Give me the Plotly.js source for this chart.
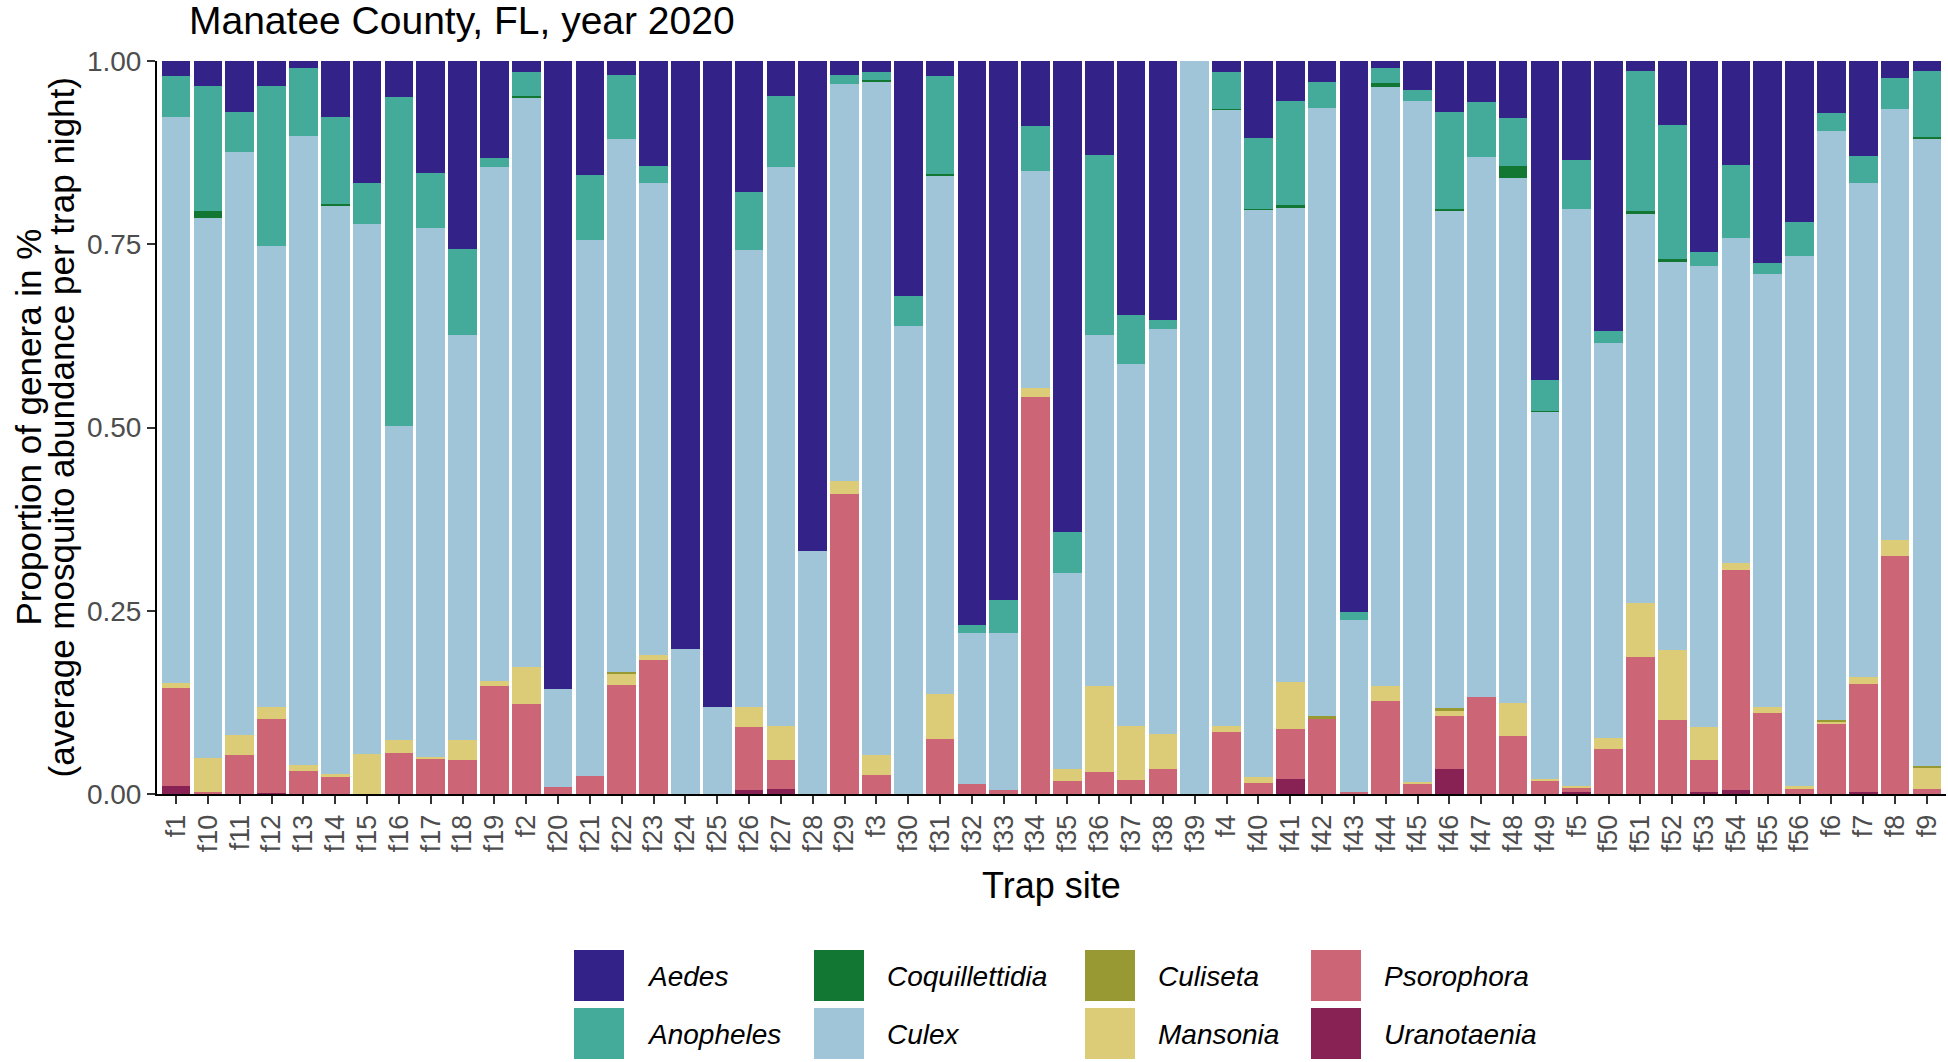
<!DOCTYPE html>
<html>
<head>
<meta charset="utf-8">
<script src="https://cdn.plot.ly/plotly-3.0.1.min.js"></script>
<style>
  html, body { margin: 0; padding: 0; background: #ffffff; }
  #myChart { width: 1948px; height: 1062px; }
</style>
</head>
<body>
<div id="myChart"></div>
<script>
// trap sites, in the (alphabetical) order used on the x axis
var sites = ["f1","f10","f11","f12","f13","f14","f15","f16","f17","f18","f19",
  "f2","f20","f21","f22","f23","f24","f25","f26","f27","f28","f29",
  "f3","f30","f31","f32","f33","f34","f35","f36","f37","f38","f39",
  "f4","f40","f41","f42","f43","f44","f45","f46","f47","f48","f49",
  "f5","f50","f51","f52","f53","f54","f55","f56","f6","f7","f8","f9"];

// proportion of each genus per site
var uranotaenia = [0.011,0,0,0.002,0,0,0,0,0,0,0,
  0,0,0,0,0,0,0,0.005,0.007,0,0,
  0,0,0,0,0,0,0,0,0,0,0,
  0,0,0.021,0,0,0,0,0.034,0,0,0,
  0.003,0,0,0,0.003,0.005,0,0,0,0.003,0,0];
var psorophora = [0.133,0.003,0.053,0.101,0.032,0.023,0,0.056,0.048,0.046,0.148,
  0.123,0.009,0.024,0.149,0.183,0,0,0.086,0.039,0,0.409,
  0.026,0,0.075,0.014,0.005,0.542,0.018,0.030,0.019,0.034,0,
  0.084,0.015,0.068,0.102,0.003,0.127,0.013,0.073,0.132,0.079,0.019,
  0.005,0.062,0.187,0.101,0.044,0.301,0.110,0.007,0.095,0.147,0.325,0.007];
var mansonia = [0.008,0.046,0.027,0.016,0.008,0.004,0.054,0.017,0.002,0.027,0.006,
  0.050,0,0,0.015,0.006,0,0,0.028,0.047,0,0.018,
  0.027,0,0.061,0,0,0.012,0.016,0.117,0.074,0.048,0,
  0.009,0.008,0.064,0,0,0.021,0.003,0.006,0,0.045,0.002,
  0.003,0.015,0.073,0.096,0.044,0.009,0.009,0.004,0.004,0.010,0.021,0.029];
var culiseta = [0,0,0,0,0,0,0,0,0,0,0,
  0,0,0,0.002,0,0,0,0,0,0,0,
  0,0,0,0,0,0,0,0,0,0,0,
  0,0,0,0.005,0,0,0,0.004,0,0,0,
  0,0,0,0,0,0,0,0,0.002,0,0,0.002];
var culex = [0.772,0.737,0.796,0.629,0.858,0.775,0.723,0.429,0.722,0.553,0.702,
  0.777,0.134,0.732,0.727,0.644,0.198,0.119,0.623,0.763,0.332,0.542,
  0.919,0.639,0.707,0.205,0.214,0.296,0.267,0.479,0.494,0.552,1.000,
  0.841,0.774,0.646,0.829,0.235,0.816,0.930,0.678,0.737,0.716,0.501,
  0.787,0.538,0.531,0.529,0.630,0.444,0.591,0.723,0.803,0.674,0.588,0.855];
var coquillettidia = [0,0.009,0,0,0,0.003,0,0,0,0,0,
  0.002,0,0,0,0,0,0,0,0,0,0,
  0.002,0,0.003,0,0,0,0,0,0,0,0,
  0.001,0.001,0.005,0,0,0.006,0,0.003,0,0.017,0.001,
  0,0,0.005,0.004,0,0,0,0,0,0,0,0.003];
var anopheles = [0.055,0.171,0.055,0.218,0.093,0.119,0.056,0.449,0.075,0.118,0.012,
  0.033,0,0.089,0.088,0.024,0,0,0.079,0.096,0,0.012,
  0.011,0.040,0.133,0.011,0.046,0.062,0.057,0.246,0.067,0.012,0,
  0.050,0.097,0.142,0.035,0.010,0.020,0.014,0.133,0.075,0.065,0.042,
  0.067,0.017,0.191,0.183,0.019,0.099,0.015,0.047,0.025,0.036,0.043,0.090];
var aedes = [0.021,0.034,0.069,0.034,0.009,0.076,0.167,0.049,0.153,0.256,0.132,
  0.015,0.857,0.155,0.019,0.143,0.802,0.881,0.179,0.048,0.668,0.019,
  0.015,0.321,0.021,0.770,0.735,0.088,0.642,0.128,0.346,0.354,0,
  0.015,0.105,0.054,0.029,0.752,0.010,0.040,0.069,0.056,0.078,0.435,
  0.135,0.368,0.013,0.087,0.260,0.142,0.275,0.219,0.071,0.130,0.023,0.014];

var genera = ["Aedes","Anopheles","Coquillettidia","Culex","Culiseta","Mansonia","Psorophora","Uranotaenia"];
var colors = ["#332288","#44AA99","#117733","#A0C4D8","#999933","#DDCC77","#CC6677","#882255"];
var values = [aedes, anopheles, coquillettidia, culex, culiseta, mansonia, psorophora, uranotaenia];

// plot area in pixels
var plotL = 157, plotR = 1946, plotT = 61, plotB = 794;
function px2x(px){ return (px - plotL) / (plotR - plotL); }
function py2y(py){ return (plotB - py) / (plotB - plotT); }

var fontFam = "Liberation Sans, Arial, Helvetica, sans-serif";

// first trace is drawn at the bottom of the stack, so go in reverse
var data = [];
for (var i = genera.length - 1; i >= 0; i--) {
  data.push({
    type: "bar",
    name: genera[i],
    x: sites,
    y: values[i],
    marker: {color: colors[i], line: {width: 0}},
    showlegend: false,
    hovertemplate: "%{x}<br>" + genera[i] + ": %{y:.3f}<extra></extra>"
  });
}

// legend drawn by hand: two rows, filled column by column like ggplot
var keyLeft = [574, 814, 1085, 1311];
var keyTop = [950, 1008];
var shapes = [];
var annotations = [];
for (var g = 0; g < genera.length; g++) {
  var col = Math.floor(g / 2), row = g % 2;
  var kx = keyLeft[col], ky = keyTop[row];
  shapes.push({
    type: "rect", xref: "paper", yref: "paper",
    x0: px2x(kx), x1: px2x(kx + 50), y0: py2y(ky + 51), y1: py2y(ky),
    fillcolor: colors[g], line: {width: 0}
  });
  annotations.push({
    xref: "paper", yref: "paper", x: px2x(kx + 71), y: py2y(ky + 26),
    xanchor: "left", yanchor: "middle", showarrow: false,
    text: "<i>" + genera[g] + "</i>",
    font: {family: fontFam, size: 28, color: "#000000"}
  });
}

// axis titles
annotations.push({
  xref: "paper", yref: "paper", x: 0.5, y: py2y(885),
  xanchor: "center", yanchor: "middle", showarrow: false,
  text: "Trap site", font: {family: fontFam, size: 36, color: "#000000"}
});
annotations.push({
  xref: "paper", yref: "paper", x: px2x(28), y: 0.5, textangle: -90,
  xanchor: "center", yanchor: "middle", showarrow: false,
  text: "Proportion of genera in %", font: {family: fontFam, size: 35, color: "#000000"}
});
annotations.push({
  xref: "paper", yref: "paper", x: px2x(61), y: 0.5, textangle: -90,
  xanchor: "center", yanchor: "middle", showarrow: false,
  text: "(average mosquito abundance per trap night)", font: {family: fontFam, size: 35, color: "#000000"}
});

var layout = {
  width: 1948,
  height: 1062,
  margin: {l: plotL, r: 1948 - plotR, t: plotT, b: 1062 - plotB},
  paper_bgcolor: "#ffffff",
  plot_bgcolor: "#ffffff",
  barmode: "stack",
  bargap: 0.1,
  showlegend: false,
  title: {
    text: "Manatee County, FL, year 2020",
    xref: "container", x: 189 / 1948, xanchor: "left",
    yref: "container", y: 1 - 20 / 1062, yanchor: "middle",
    font: {family: fontFam, size: 39, color: "#000000"}
  },
  xaxis: {
    type: "category",
    categoryorder: "array",
    categoryarray: sites,
    tickmode: "array",
    tickvals: sites,
    ticktext: sites,
    range: [-0.6, sites.length - 0.4],
    showgrid: false, zeroline: false,
    showline: true, linecolor: "#000000", linewidth: 2,
    ticks: "outside", ticklen: 8, tickwidth: 2, tickcolor: "#333333",
    tickangle: -90,
    tickfont: {family: fontFam, size: 27, color: "#4D4D4D"},
    fixedrange: true
  },
  yaxis: {
    range: [0, 1],
    tickvals: [0, 0.25, 0.5, 0.75, 1],
    ticktext: ["0.00", "0.25", "0.50", "0.75", "1.00"],
    showgrid: false, zeroline: false,
    showline: true, linecolor: "#000000", linewidth: 2,
    ticks: "outside", ticklen: 8, tickwidth: 2, tickcolor: "#333333",
    tickfont: {family: fontFam, size: 28, color: "#4D4D4D"},
    fixedrange: true
  },
  shapes: shapes,
  annotations: annotations
};

Plotly.newPlot("myChart", data, layout, {displayModeBar: false, responsive: false});
</script>
</body>
</html>
